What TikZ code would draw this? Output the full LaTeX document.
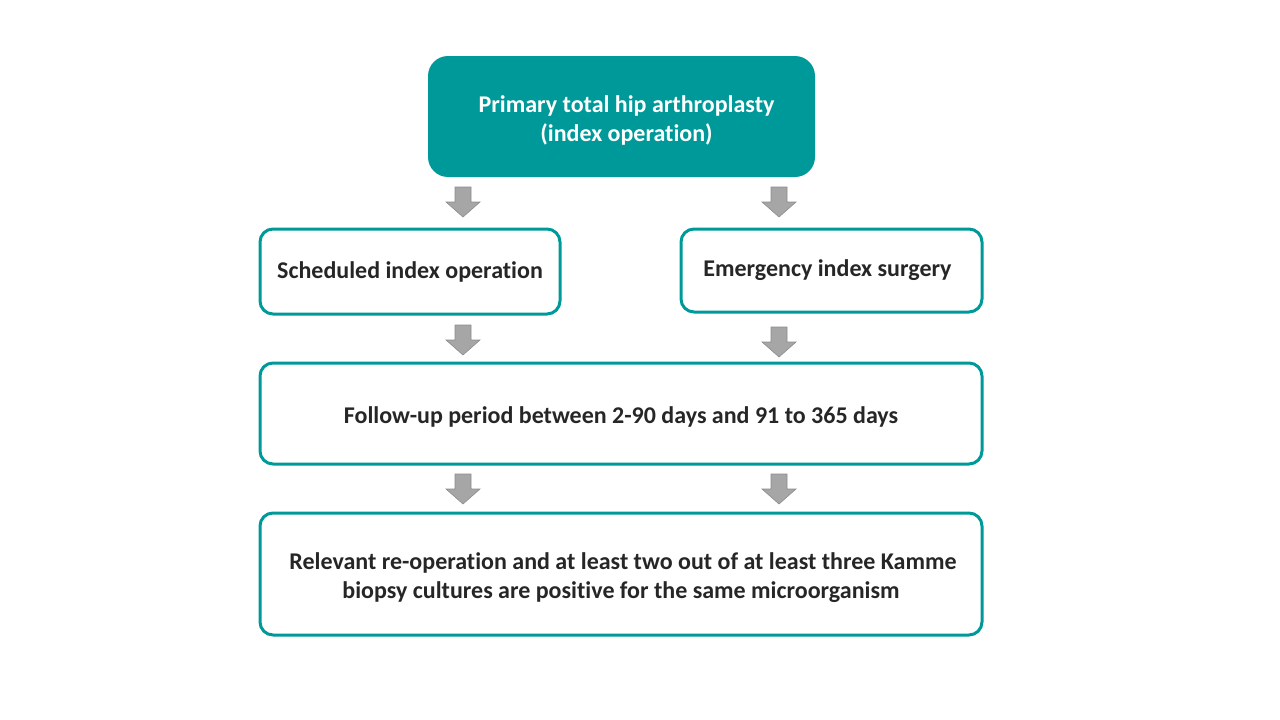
\documentclass[tikz,border=0pt]{standalone}
\usepackage{fontspec}
\setmainfont[Ligatures=NoCommon]{Carlito}
\definecolor{teal1}{HTML}{009999}
\definecolor{txt}{HTML}{262626}
\definecolor{arrfill}{HTML}{A6A6A6}
\definecolor{arrline}{HTML}{8C8C8C}
\newcommand{\lowstrut}{\rule{0pt}{24pt}}
\tikzset{
  wbox/.style={draw=teal1, line width=3pt, rounded corners=13pt, fill=white,
    text=txt, font=\fontsize{24}{29}\selectfont\bfseries, align=center, inner sep=0pt},
  tbox/.style={fill=teal1, rounded corners=20pt, text=white,
    font=\fontsize{24}{29}\selectfont\bfseries, align=center, inner sep=0pt},
  garrow/.pic={\filldraw[draw=arrline, fill=arrfill, line width=0.6pt]
    (-8,0) -- (8,0) -- (8,15) -- (17,15) -- (0,30) -- (-17,15) -- (-8,15) -- cycle;}
}
\begin{document}
\begin{tikzpicture}[x=1pt,y=-1pt]
\useasboundingbox (0,0) rectangle (1280,720);
\node[tbox, minimum width=387pt, minimum height=121pt] (top) at (621.5,116.5)
  {\lowstrut\hspace*{10pt}Primary total hip arthroplasty\\\hspace*{10pt}(index operation)};
\node[wbox, minimum width=300pt, minimum height=85pt] (sched) at (410,271.5)
  {Scheduled index operation};
\node[wbox, minimum width=301pt, minimum height=83pt] (emerg) at (831.5,270.5)
  {Emergency index surgery\hspace*{8pt}};
\node[wbox, minimum width=722pt, minimum height=101pt] (follow) at (621,413.5)
  {\lowstrut Follow-up period between 2-90 days and 91 to 365 days};
\node[wbox, minimum width=722pt, minimum height=122pt] (relev) at (621,574)
  {\lowstrut\hspace*{4pt}Relevant re-operation and at least two out of at least three Kamme\\biopsy cultures are positive for the same microorganism};
\coordinate (a1) at (463,187);
\coordinate (a2) at (779,187);
\coordinate (a3) at (463,325);
\coordinate (a4) at (779,327);
\coordinate (a5) at (463,474);
\coordinate (a6) at (779,474);
\foreach \a in {a1,a2,a3,a4,a5,a6} {\pic at (\a) {garrow};}
\end{tikzpicture}
\end{document}
